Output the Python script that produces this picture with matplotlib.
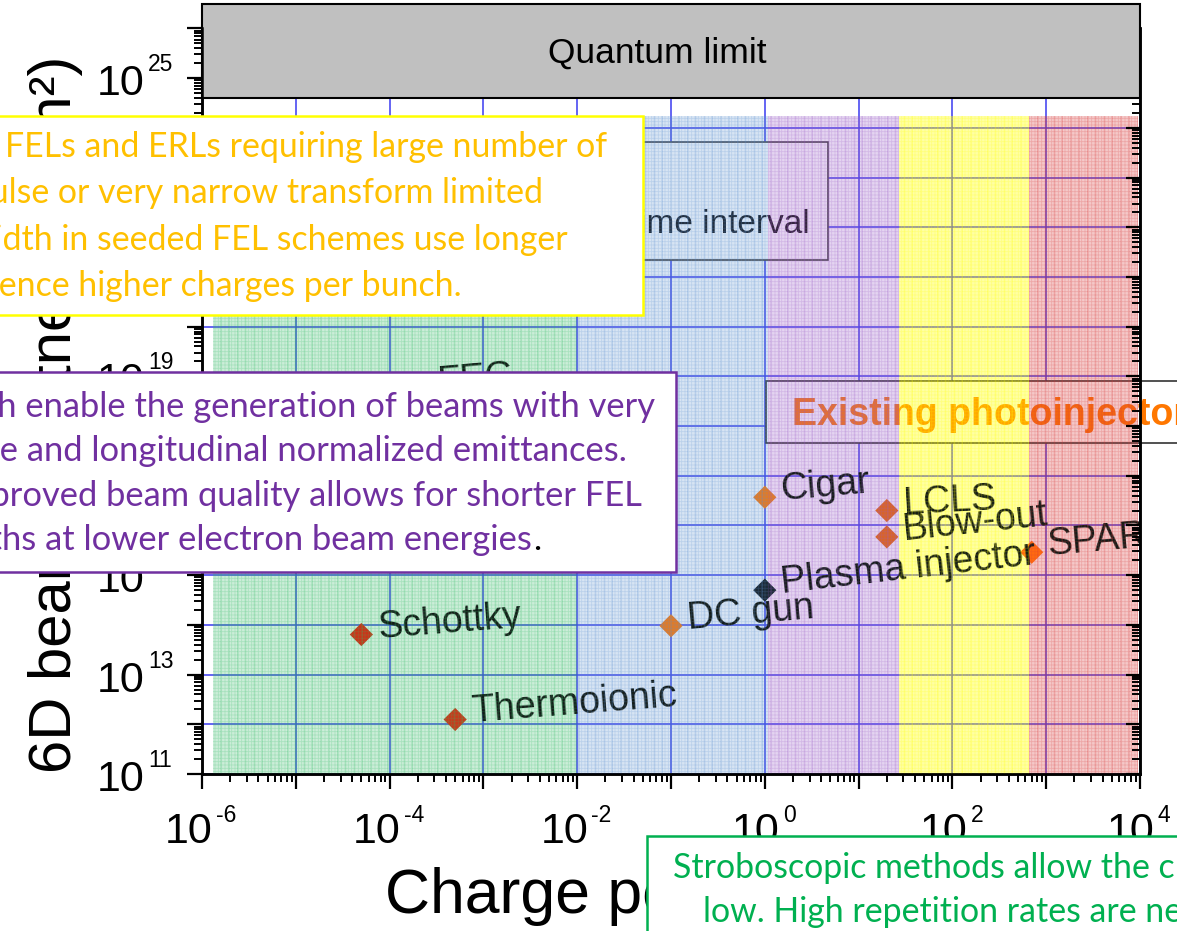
import numpy as np
import matplotlib.pyplot as plt
from matplotlib import rc
from matplotlib.colors import to_rgb
from matplotlib.patches import Rectangle
from matplotlib.ticker import LogLocator, NullFormatter

rc('font', family=['Liberation Sans', 'DejaVu Sans'])
rc('hatch', linewidth=0.6)

W, H = 1177, 931

# electron sources: charge per bunch (pC) and 6D beam brightness
sources = ['Schottky', 'Thermoionic', 'DC gun', 'Plasma injector', 'Cigar',
           'LCLS', 'Blow-out', 'SPARC', 'FEG']
charge = [5e-5, 5e-4, 0.1, 1.0, 1.0, 20, 20, 700, 2.2e-4]
brightness = [6.4e13, 1.25e12, 9.6e13, 5e14, 3.7e16, 2e16, 5.9e15, 2.9e15, 5.4e18]
marker_colors = ['#cc3318', '#c83a1c', '#e07b28', '#1c2a36', '#e07b28',
                 '#d8642a', '#d8642a', '#ff6a10', '#cc3318']
label_rot = [4.5, 4.5, 5, 6.5, 5, 3, 6, 5, 5]

# charge ranges of the shaded regimes
band_edges = [1.3e-6, 1e-2, 1.07, 27, 650, 9.6e3]
band_colors = ['#33bb66', '#5b8fd0', '#9a5cc6', '#ffff00', '#d83a3a']
band_alpha = [0.25, 0.24, 0.26, 0.36, 0.28]
band_top = 1.7e24

quantum_floor = 4e24
quantum_ceiling = 10 ** 26.49
ymin, ymax = 1e11, 1e26

xtick_exp = [-6, -4, -2, 0, 2, 4]
ytick_exp = [11, 13, 15, 17, 19, 21, 23, 25]


def fx(x):
    return x / W


def fy(y):
    return 1 - y / H


fig = plt.figure(figsize=(W / 100, H / 100), dpi=100)
ax = fig.add_axes([fx(202), fy(774), (1140 - 202) / W, (774 - 28.5) / H])
ax.set_xscale('log')
ax.set_yscale('log')
ax.set_xlim(1e-6, 1e4)
ax.set_ylim(ymin, ymax)
ax.set_axisbelow(True)

ax.xaxis.set_major_locator(LogLocator(base=10, numticks=30))
ax.xaxis.set_minor_locator(LogLocator(base=10, subs=np.arange(2, 10), numticks=200))
ax.yaxis.set_major_locator(LogLocator(base=10, numticks=30))
ax.yaxis.set_minor_locator(LogLocator(base=10, subs=np.arange(2, 10), numticks=200))
ax.xaxis.set_minor_formatter(NullFormatter())
ax.yaxis.set_minor_formatter(NullFormatter())
ax.tick_params(which='both', labelbottom=False, labelleft=False, direction='out',
               top=False, right=False)
ax.tick_params(which='major', length=11, width=1.6)
ax.tick_params(which='minor', length=6, width=1.4)
ax.grid(True, which='major', color='#3a3af0', lw=1.1)
for s in ax.spines.values():
    s.set_linewidth(1.8)
ax.spines['top'].set_visible(False)

# right-hand ticks point inwards
ax2 = ax.twinx()
ax2.set_yscale('log')
ax2.set_ylim(ymin, ymax)
ax2.set_axisbelow(True)
ax2.yaxis.set_major_locator(LogLocator(base=10, numticks=30))
ax2.yaxis.set_minor_locator(LogLocator(base=10, subs=np.arange(2, 10), numticks=200))
ax2.yaxis.set_minor_formatter(NullFormatter())
ax2.tick_params(which='both', direction='in', labelright=False)
ax2.tick_params(which='major', length=10, width=1.6)
ax2.tick_params(which='minor', length=6, width=1.4)
for s in ax2.spines.values():
    s.set_linewidth(1.8)
ax2.spines['top'].set_visible(False)

# quantum limit
ax2.add_patch(Rectangle((1e-6, quantum_floor), 1e4 - 1e-6, quantum_ceiling - quantum_floor,
                        facecolor='#c0c0c0', edgecolor='black', lw=1.5, zorder=1,
                        clip_on=False))
ax2.text(fx(657), fy(63), 'Quantum limit', transform=fig.transFigure, ha='center',
         va='baseline', fontsize=25.5, zorder=1.2, clip_on=False)

# time interval box
ax.add_patch(Rectangle((fx(600), fy(260)), fx(828) - fx(600), fy(142) - fy(260),
                       transform=fig.transFigure, facecolor='white', edgecolor='#404040',
                       lw=1.2, zorder=1))
ax.text(fx(810), fy(233), 'Time interval', transform=fig.transFigure, ha='right',
        va='baseline', fontsize=24, color='#111111', zorder=1.2)

# existing photoinjectors box
ax.add_patch(Rectangle((fx(766), fy(443)), fx(1200) - fx(766), fy(381) - fy(443),
                       transform=fig.transFigure, facecolor='white', edgecolor='#333333',
                       lw=1.2, zorder=1, clip_on=False))
ax.text(fx(792), fy(425), 'Existing photoinjectors', transform=fig.transFigure,
        ha='left', va='baseline', fontsize=27, fontweight='bold', color='#ff7700',
        zorder=1.2, clip_on=False)

# shaded regimes: tint below the sources, texture above them
for lo, hi, c, al in zip(band_edges[:-1], band_edges[1:], band_colors, band_alpha):
    rgb = to_rgb(c)
    ax.add_patch(Rectangle((lo, ymin), hi - lo, band_top - ymin,
                           facecolor=(*rgb, al), lw=0, zorder=3))
    ax.add_patch(Rectangle((lo, ymin), hi - lo, band_top - ymin, fill=False,
                           hatch='+++++', edgecolor=(*rgb, 0.22), lw=0, zorder=5))
    ax.add_patch(Rectangle((lo, ymin), hi - lo, band_top - ymin, fill=False,
                           hatch='||', edgecolor=(*rgb, 0.3), lw=0, zorder=5.1))

# sources
ax.scatter(charge, brightness, marker='D', s=140, c=marker_colors, lw=0, zorder=4)
for name, q, b, rot in zip(sources, charge, brightness, label_rot):
    ax.annotate(name, (q, b), xytext=(17, -3), textcoords='offset pixels',
                rotation=rot, rotation_mode='anchor', ha='left', va='baseline',
                fontsize=27, color='#121a16', zorder=4.5, clip_on=True,
                annotation_clip=False)

# decade tick labels
for e in xtick_exp:
    j = 11 if e < 0 else 15
    ax.annotate('10', (10.0 ** e, 0), xycoords=('data', 'axes fraction'),
                xytext=(j, -69), textcoords='offset pixels', ha='right', va='baseline',
                fontsize=31, annotation_clip=False)
    ax.annotate(str(e), (10.0 ** e, 0), xycoords=('data', 'axes fraction'),
                xytext=(j + 3, -48), textcoords='offset pixels', ha='left', va='baseline',
                fontsize=16.5, annotation_clip=False)
for e in ytick_exp:
    ax.annotate('10', (0, 10.0 ** e), xycoords=('axes fraction', 'data'),
                xytext=(-58, -17), textcoords='offset pixels', ha='right', va='baseline',
                fontsize=31, annotation_clip=False)
    ax.annotate(str(e), (0, 10.0 ** e), xycoords=('axes fraction', 'data'),
                xytext=(-54, 7), textcoords='offset pixels', ha='left', va='baseline',
                fontsize=16.5, annotation_clip=False)

axh = 774 - 28.5
ax.set_xlabel('Charge per bunch (pC)', fontsize=45, ha='left', va='baseline')
ax.xaxis.set_label_coords((385 - 202) / 938, (774 - 913) / axh)
ax.set_ylabel('6D beam brightness (A/m²)', fontsize=43)
ax.yaxis.set_label_coords((83 - 202) / 938, (774 - 414.5) / axh)

# text boxes laid over the figure
boxfont = ['Lato', 'DejaVu Sans']


def note_box(x0, y0, x1, y1, edge):
    fig.add_artist(Rectangle((fx(x0), fy(y1)), fx(x1) - fx(x0), fy(y0) - fy(y1),
                             transform=fig.transFigure, facecolor='white',
                             edgecolor=edge, lw=1.8, zorder=10))


note_box(-5, 116, 643, 315, '#ffff00')
yellow_lines = ['X-ray FELs and ERLs requiring large number of',
                'photons per pulse or very narrow transform limited',
                'bandwidth in seeded FEL schemes use longer',
                'bunches and hence higher charges per bunch.']
for s, xr, yb in zip(yellow_lines, [607, 543, 568, 462], [157, 203, 250, 296]):
    fig.text(fx(xr), fy(yb), s, ha='right', va='baseline', fontsize=24.4,
             color='#ffc000', family=boxfont, zorder=11)

note_box(-5, 372, 676, 572, '#7030a0')
purple_lines = ['Novel sources which enable the generation of beams with very',
                'low transverse and longitudinal normalized emittances.',
                'The improved beam quality allows for shorter FEL',
                'lengths at lower electron beam energies']
for s, xr, yb in zip(purple_lines, [655, 627, 642, 532], [417, 461, 506, 550]):
    fig.text(fx(xr), fy(yb), s, ha='right', va='baseline', fontsize=24.8,
             color='#7030a0', family=boxfont, zorder=11)
fig.text(fx(533), fy(550), '.', ha='left', va='baseline', fontsize=24.8,
         color='black', family=boxfont, zorder=11)

note_box(647, 836, 1200, 960, '#00b050')
green_lines = ['Stroboscopic methods allow the charge per bunch to be very',
               'low. High repetition rates are needed to compensate.']
for s, xl, yb in zip(green_lines, [673, 703], [878, 922]):
    fig.text(fx(xl), fy(yb), s, ha='left', va='baseline', fontsize=24.4,
             color='#00b050', family=boxfont, zorder=11)

fig.savefig('out.png', dpi=100)
